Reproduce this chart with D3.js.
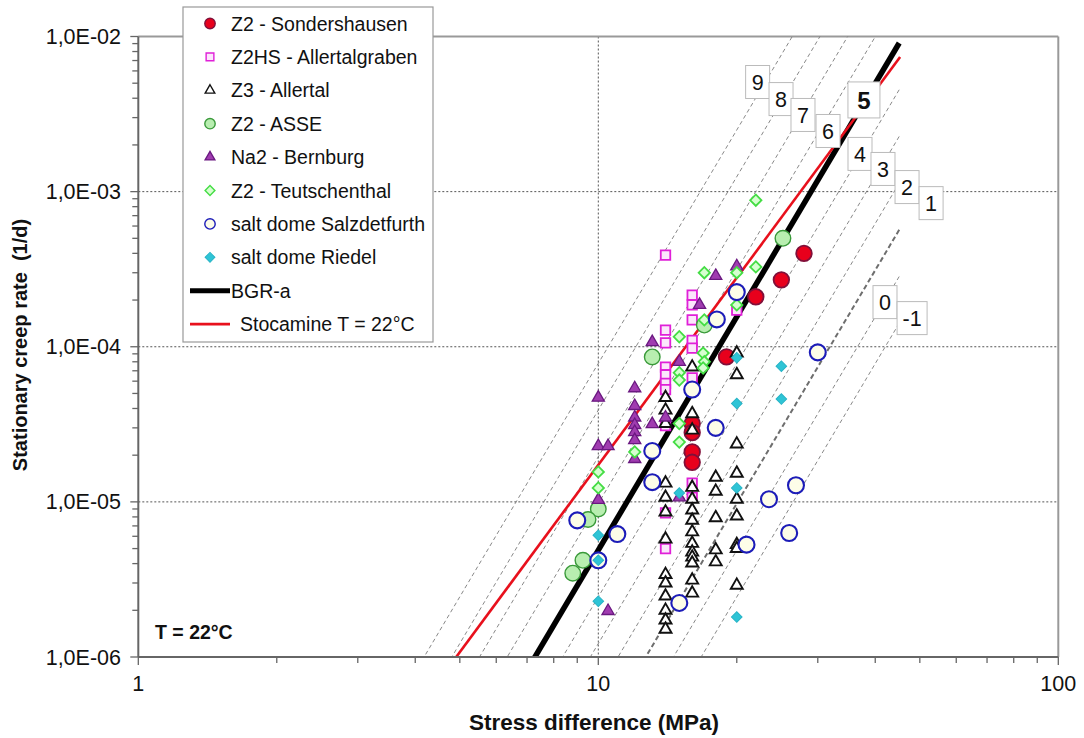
<!DOCTYPE html>
<html><head><meta charset="utf-8">
<script src="https://cdn.jsdelivr.net/npm/d3@7"></script>
<style>body{margin:0;background:#fff} svg{display:block} text{font-family:"Liberation Sans",Arial,sans-serif;fill:#111}</style>
</head><body><svg id="c" width="1084" height="738"></svg>
<script>
// ---------------- DATA ----------------
const xTickValues = [1, 10, 100];
const xTickLabels = ["1", "10", "100"];
const yTickValues = [1e-6, 1e-5, 1e-4, 1e-3, 1e-2];
const yTickLabels = ["1,0E-06", "1,0E-05", "1,0E-04", "1,0E-03", "1,0E-02"];

const sondStress = [16, 16, 16, 16, 19, 22, 25, 28];
const sondRate   = [3.2e-5, 2.8e-5, 2.1e-5, 1.8e-5, 8.6e-5, 2.1e-4, 2.7e-4, 4.0e-4];

const allgStress = [14, 16, 16, 16, 16, 16, 20, 14, 14, 14, 14, 14, 14, 14, 16, 16, 16, 14, 14];
const allgRate   = [3.9e-4, 2.15e-4, 1.86e-4, 1.49e-4, 1.1e-4, 9.8e-5, 1.72e-4, 1.28e-4, 1.06e-4, 7.4e-5, 6.6e-5, 5.8e-5, 5.3e-5, 3.1e-5, 6.3e-5, 1.32e-5, 1.07e-5, 8.5e-6, 5.0e-6];

const z3Stress = [14, 14, 14, 14, 14, 14, 14, 14, 14, 14, 14, 14, 14,
                  16, 16, 16, 16, 16, 16, 16, 16, 16, 16, 16, 16, 16, 16,
                  18, 18, 18, 18, 18,
                  20, 20, 20, 20, 20, 20, 20, 20, 20];
const z3Rate   = [4.7e-5, 3.9e-5, 3.2e-5, 1.32e-5, 1.07e-5, 8.6e-6, 5.75e-6, 3.4e-6, 3.0e-6, 2.47e-6, 2.0e-6, 1.73e-6, 1.51e-6,
                  7.4e-5, 3.7e-5, 2.9e-5, 1.24e-5, 1.04e-5, 8.85e-6, 7.6e-6, 6.4e-6, 5.4e-6, 4.74e-6, 4.4e-6, 4.03e-6, 3.13e-6, 2.58e-6,
                  1.44e-5, 1.17e-5, 7.9e-6, 4.9e-6, 4.1e-6,
                  9.1e-5, 6.6e-5, 2.36e-5, 1.53e-5, 1.04e-5, 8.1e-6, 5.3e-6, 5.0e-6, 2.9e-6];

const asseStress = [25.2, 17, 13.1, 10, 9.5, 9.26, 8.8];
const asseRate   = [5.0e-4, 1.38e-4, 8.6e-5, 9.0e-6, 7.7e-6, 4.2e-6, 3.47e-6];

const bernStress = [18, 20, 16.6, 13.1, 15, 10, 12, 12, 12, 12, 12, 12, 12, 13.1, 14, 10, 10.5, 10, 15, 10.5];
const bernRate   = [2.86e-4, 3.3e-4, 1.86e-4, 1.07e-4, 8.0e-5, 4.7e-5, 5.4e-5, 4.15e-5, 3.5e-5, 3.13e-5, 2.82e-5, 2.5e-5, 1.89e-5, 3.17e-5, 3.5e-5, 2.29e-5, 2.29e-5, 1.03e-5, 1.07e-5, 1.98e-6];

const teutStress = [22, 17, 22, 20, 20, 17, 16.9, 17, 16.9, 15, 15, 15, 15, 15, 12, 10, 10];
const teutRate   = [8.8e-4, 3.0e-4, 3.27e-4, 3.0e-4, 1.86e-4, 1.49e-4, 9.1e-5, 8.0e-5, 7.3e-5, 1.16e-4, 6.8e-5, 6.1e-5, 3.2e-5, 2.43e-5, 2.1e-5, 1.56e-5, 1.23e-5];

const salzStress = [30, 20, 18.1, 16, 18, 13.1, 13.1, 9.0, 11, 10, 15, 26.9, 23.5, 26, 21];
const salzRate   = [9.2e-5, 2.25e-4, 1.5e-4, 5.3e-5, 3.0e-5, 2.13e-5, 1.34e-5, 7.6e-6, 6.2e-6, 4.2e-6, 2.23e-6, 1.28e-5, 1.04e-5, 6.3e-6, 5.3e-6];

const riedStress = [20, 25, 20, 25, 20, 15, 10, 10, 10, 20];
const riedRate   = [8.5e-5, 7.5e-5, 4.3e-5, 4.6e-5, 1.23e-5, 1.14e-5, 6.1e-6, 4.2e-6, 2.29e-6, 1.81e-6];

// model lines
const bgrStress = [3, 45.1];
const bgrRate   = [1.19e-8, 9.08e-3];
const stocStress = [4.91, 45.3];
const stocRate   = [1.0e-6, 7.38e-3];

// creep classes (factor 2 per class relative to BGR-a = class 5)
const classNames   = ["-1", "0", "1", "2", "3", "4", "6", "7", "8", "9"];
const classFactors = [1/64, 1/32, 1/16, 1/8, 1/4, 1/2, 2, 4, 8, 16];
// label anchors (data units)
const labelNames  = ["9", "8", "7", "6", "5", "4", "3", "2", "1", "0", "-1"];
const labelStress = [22.2, 24.96, 27.86, 31.58, 37.8, 37.06, 41.58, 46.9, 52.9, 42.0, 48.1];
const labelRate   = [5.09e-3, 3.95e-3, 3.12e-3, 2.46e-3, 3.9e-3, 1.75e-3, 1.40e-3, 1.07e-3, 8.43e-4, 1.94e-4, 1.53e-4];

const legendNames = ["Z2 - Sondershausen", "Z2HS - Allertalgraben", "Z3 - Allertal", "Z2 - ASSE", "Na2 - Bernburg",
                     "Z2 - Teutschenthal", "salt dome Salzdetfurth", "salt dome Riedel", "BGR-a", "Stocamine T = 22°C"];

// ---------------- CHART ----------------
const svg = d3.select("#c");
const L = 138.3, R = 1058.3, T = 36.5, B = 657;
const x = d3.scaleLog().domain([1, 100]).range([L, R]);
const y = d3.scaleLog().domain([1e-6, 1e-2]).range([B, T]);

svg.append("defs").append("clipPath").attr("id", "clip")
  .append("rect").attr("x", L).attr("y", T).attr("width", R - L).attr("height", B - T);

// gridlines
const grid = svg.append("g");
[1e-5, 1e-4, 1e-3].forEach(v => grid.append("line").attr("x1", L).attr("x2", R).attr("y1", y(v)).attr("y2", y(v))
  .attr("stroke", "#555").attr("stroke-width", 1).attr("stroke-dasharray", "2,2"));
[10].forEach(v => grid.append("line").attr("x1", x(v)).attr("x2", x(v)).attr("y1", T).attr("y2", B)
  .attr("stroke", "#555").attr("stroke-width", 1).attr("stroke-dasharray", "2,2"));

// border top/right
svg.append("line").attr("x1", L).attr("x2", R).attr("y1", T).attr("y2", T).attr("stroke", "#999").attr("stroke-width", 2);
svg.append("line").attr("x1", R).attr("x2", R).attr("y1", T).attr("y2", B).attr("stroke", "#999").attr("stroke-width", 2);

const plot = svg.append("g").attr("clip-path", "url(#clip)");
const line = d3.line().x(d => x(d[0])).y(d => y(d[1]));

// class lines
classNames.forEach((c, i) => {
  const pts = bgrStress.map((s, j) => [s, bgrRate[j] * classFactors[i]]);
  const thick = c === "1";
  plot.append("path").attr("d", line(pts)).attr("fill", "none")
    .attr("stroke", thick ? "#6e6e6e" : "#7a7a7a")
    .attr("stroke-width", thick ? 2 : 0.9)
    .attr("stroke-dasharray", thick ? "5,3" : "4,3");
});

// BGR-a and Stocamine
plot.append("path").attr("d", line(bgrStress.map((s, j) => [s, bgrRate[j]])))
  .attr("fill", "none").attr("stroke", "#000").attr("stroke-width", 5.5);
plot.append("path").attr("d", line(stocStress.map((s, j) => [s, stocRate[j]])))
  .attr("fill", "none").attr("stroke", "#e8101c").attr("stroke-width", 2.6);

// series styles
const series = [
  {name: legendNames[0], sx: sondStress, sy: sondRate, type: d3.symbolCircle, size: 190, lsize: 85, fill: "#e8001c", stroke: "#80103a", sw: 1.8, rot: 0},
  {name: legendNames[1], sx: allgStress, sy: allgRate, type: d3.symbolSquare, size: 90, lsize: 60, fill: "#fbe6fb", stroke: "#e020d8", sw: 1.8, rot: 0},
  {name: legendNames[2], sx: z3Stress, sy: z3Rate, type: d3.symbolTriangle, size: 62, lsize: 40, fill: "#ffffff", stroke: "#111", sw: 1.9, rot: 0},
  {name: legendNames[3], sx: asseStress, sy: asseRate, type: d3.symbolCircle, size: 190, lsize: 85, fill: "#b8eeb0", stroke: "#3a9a3a", sw: 1.4, rot: 0},
  {name: legendNames[4], sx: bernStress, sy: bernRate, type: d3.symbolTriangle, size: 64, lsize: 42, fill: "#a03cb0", stroke: "#6a1880", sw: 1.3, rot: 0},
  {name: legendNames[5], sx: teutStress, sy: teutRate, type: d3.symbolSquare, size: 64, lsize: 48, fill: "#d6ffd0", stroke: "#44dd44", sw: 1.8, rot: 45},
  {name: legendNames[6], sx: salzStress, sy: salzRate, type: d3.symbolCircle, size: 200, lsize: 85, fill: "#fdfde8", stroke: "#1c1cb8", sw: 2.1, rot: 0},
  {name: legendNames[7], sx: riedStress, sy: riedRate, type: d3.symbolSquare, size: 56, lsize: 48, fill: "#2ec4d6", stroke: "#28b4c6", sw: 1, rot: 45}
];

const marks = svg.append("g").attr("clip-path", "url(#clip)");
series.forEach(s => {
  const sym = d3.symbol().type(s.type).size(s.size);
  marks.append("g").selectAll("path").data(s.sx.map((v, i) => [v, s.sy[i]])).join("path")
    .attr("d", sym)
    .attr("transform", d => `translate(${x(d[0])},${y(d[1])}) rotate(${s.rot})`)
    .attr("fill", s.fill).attr("stroke", s.stroke).attr("stroke-width", s.sw);
});

// class labels
const lab = svg.append("g");
labelNames.forEach((n, i) => {
  const cx = x(labelStress[i]), cy = y(labelRate[i]);
  const big = n === "5";
  const w = big ? 32 : (n.length > 1 ? 30 : 24), h = big ? 36 : 33;
  lab.append("rect").attr("x", cx - w / 2).attr("y", cy - h / 2).attr("width", w).attr("height", h)
    .attr("fill", "#fff").attr("stroke", "#bbb").attr("stroke-width", 1);
  lab.append("text").attr("x", cx).attr("y", cy + (big ? 9 : 8)).attr("text-anchor", "middle")
    .attr("font-size", big ? 24 : 21.5).attr("font-weight", big ? "bold" : "normal").text(n);
});

// axes
const axG = svg.append("g");
axG.append("line").attr("x1", L).attr("x2", L).attr("y1", T).attr("y2", B).attr("stroke", "#666").attr("stroke-width", 2);
axG.append("line").attr("x1", L).attr("x2", R).attr("y1", B).attr("y2", B).attr("stroke", "#666").attr("stroke-width", 2);
y.ticks().forEach(v => {
  const major = yTickValues.some(t => Math.abs(t - v) / t < 1e-6);
  axG.append("line").attr("x1", L - (major ? 8 : 6)).attr("x2", L).attr("y1", y(v)).attr("y2", y(v)).attr("stroke", "#666").attr("stroke-width", 1.3);
});
x.ticks().forEach(v => {
  const major = xTickValues.some(t => Math.abs(t - v) / t < 1e-6);
  axG.append("line").attr("x1", x(v)).attr("x2", x(v)).attr("y1", B).attr("y2", B + (major ? 8 : 6)).attr("stroke", "#666").attr("stroke-width", 1.3);
});
yTickValues.forEach((v, i) => axG.append("text").attr("x", 121).attr("y", y(v) + 7.5).attr("text-anchor", "end")
  .attr("font-size", 21.5).attr("fill", "#222").text(yTickLabels[i]));
xTickValues.forEach((v, i) => axG.append("text").attr("x", x(v)).attr("y", 691).attr("text-anchor", "middle")
  .attr("font-size", 21.5).attr("fill", "#222").text(xTickLabels[i]));

svg.append("text").attr("x", 594).attr("y", 730).attr("text-anchor", "middle").attr("font-size", 22.5)
  .attr("font-weight", "bold").text("Stress difference (MPa)");
svg.append("text").attr("transform", "translate(27,345) rotate(-90)").attr("text-anchor", "middle").attr("font-size", 20)
  .attr("font-weight", "bold").style("white-space", "pre").text("Stationary creep rate  (1/d)");
svg.append("text").attr("x", 155).attr("y", 639).attr("font-size", 19.5).attr("font-weight", "bold").text("T = 22°C");

// legend
const lg = svg.append("g");
lg.append("rect").attr("x", 183).attr("y", 7).attr("width", 250).attr("height", 335).attr("fill", "#fff")
  .attr("stroke", "#999").attr("stroke-width", 1.2);
const ly0 = 23.5, lstep = 33.4;
series.forEach((s, i) => {
  const yy = ly0 + i * lstep;
  lg.append("path").attr("d", d3.symbol().type(s.type).size(s.lsize)())
    .attr("transform", `translate(210,${yy}) rotate(${s.rot})`)
    .attr("fill", s.fill).attr("stroke", s.stroke).attr("stroke-width", Math.min(s.sw, 1.4));
  lg.append("text").attr("x", 231).attr("y", yy + 7).attr("font-size", 19.5).text(s.name);
});
const yb = ly0 + 8 * lstep, ys = ly0 + 9 * lstep;
lg.append("line").attr("x1", 190).attr("x2", 230).attr("y1", yb).attr("y2", yb).attr("stroke", "#000").attr("stroke-width", 5);
lg.append("text").attr("x", 231).attr("y", yb + 7).attr("font-size", 19.5).text(legendNames[8]);
lg.append("line").attr("x1", 190).attr("x2", 230).attr("y1", ys).attr("y2", ys).attr("stroke", "#e8101c").attr("stroke-width", 2.6);
lg.append("text").attr("x", 240).attr("y", ys + 7).attr("font-size", 19.5).text(legendNames[9]);
</script></body></html>
